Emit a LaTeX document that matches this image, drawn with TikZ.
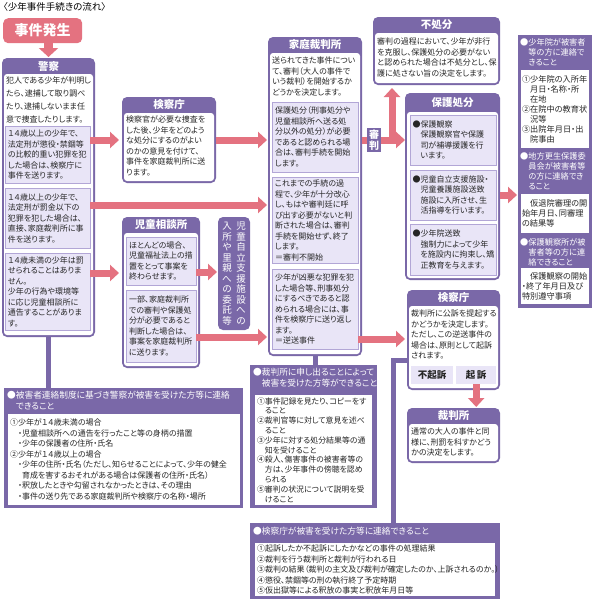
\documentclass[tikz,border=0pt]{standalone}
\usepackage{fontspec}
\setmainfont{Noto Sans CJK JP}[RawFeature=+palt]
\usetikzlibrary{arrows.meta}

\definecolor{purp}{RGB}{122,104,168}
\definecolor{lav}{RGB}{233,229,247}
\definecolor{lavline}{RGB}{178,166,214}
\definecolor{pnk}{RGB}{228,114,128}

\newcommand\titlefnt{\fontsize{9.5pt}{11pt}\selectfont}
\newcommand\txtfont{\fontsize{8pt}{10.5pt}\selectfont}
\newcommand\loosetxt{\fontsize{8pt}{12.7pt}\selectfont}
\newcommand\tighttxt{\fontsize{7.9pt}{9.8pt}\selectfont}
\newcommand\hdfont{\fontsize{10.5pt}{12pt}\selectfont\bfseries}
\newcommand\colfont{\fontsize{8.2pt}{10pt}\selectfont}
\newcommand\boxhdfont{\fontsize{8.7pt}{10.8pt}\selectfont}
\newcommand\indnt{\hspace*{1em}}

\tikzset{
  panel/.style={fill=purp, rounded corners=5pt, inner sep=0pt, outer sep=0pt, anchor=north west},
  body/.style={fill=white, rounded corners=3pt, inner sep=0pt, outer sep=0pt, anchor=north},
  head/.style={text=white, font=\hdfont, inner sep=0pt},
  txt/.style={font=\txtfont, text=black!85, align=left, inner sep=0pt, anchor=north west},
  subbox/.style={fill=lav, draw=lavline, line width=0.8pt, inner sep=3pt, outer sep=0pt,
    align=left, font=\txtfont, text=black!85, anchor=north west},
  sheet/.style={fill=white, inner sep=2pt, outer sep=0pt, align=left, font=\txtfont,
    text=black!85, anchor=north west},
  flat/.style={fill=purp, inner sep=0pt, outer sep=0pt, anchor=north west},
  whitetxt/.style={text=white, align=left, inner sep=0pt, anchor=north west},
  startbox/.style={fill=pnk, rounded corners=5pt, anchor=north west, text=white,
    font=\fontsize{14pt}{16pt}\selectfont\bfseries},
  vtext/.style={text=white, align=center, inner sep=0pt, font=\fontsize{9.5pt}{10.5pt}\selectfont},
  judge/.style={fill=purp, text=white, align=center, inner xsep=2pt, inner ysep=2pt,
    font=\fontsize{10pt}{11pt}\selectfont\bfseries},
  button/.style={fill=lav, anchor=north west, minimum height=18pt, inner sep=0pt,
    text=black!85, font=\fontsize{9.5pt}{11pt}\selectfont\bfseries},
  parrow/.style={draw=pnk, line width=7pt, -{Triangle[width=16pt,length=9pt]}},
  plink/.style={draw=pnk, line width=7pt},
  pline/.style={draw=purp, line width=5pt},
}

\begin{document}
\begin{tikzpicture}[x=1pt, y=-1pt]
\useasboundingbox (0,0) rectangle (599,600);
\fill[white] (0,0) rectangle (599,600);

% title
\node[anchor=north west, inner sep=0pt, font=\titlefnt] (title) at (3,2) {〈少年事件手続きの流れ〉};
\node[startbox, minimum width=79pt, minimum height=25pt] (start) at (3,18) {事件発生};

% police
\node[panel, minimum width=93pt, minimum height=279pt] (police) at (2,58) {};
\node[body, minimum width=89pt, minimum height=261pt] (policeB) at ([yshift=-16pt]police.north) {};
\node[head] (policeH) at ([yshift=-8pt]police.north) {警察};
\node[txt, font=\loosetxt] (policeI) at (6,77) {犯人である少年が判明し\\たら、逮捕して取り調べ\\たり、逮捕しないまま任\\意で捜査したりします。};
\node[subbox, text width=79pt, minimum height=57pt] (ps1) at (5,126) {１４歳以上の少年で、\\法定刑が懲役・禁錮等\\の比較的重い犯罪を犯\\した場合は、検察庁に\\事件を送ります。};
\node[subbox, text width=79pt, minimum height=60pt] (ps2) at (5,188) {１４歳以上の少年で、\\法定刑が罰金以下の\\犯罪を犯した場合は、\\直接、家庭裁判所に事\\件を送ります。};
\node[subbox, text width=79pt, minimum height=77pt] (ps3) at (5,253) {１４歳未満の少年は罰\\せられることはありま\\せん。\\少年の行為や環境等\\に応じ児童相談所に\\通告することがありま\\す。};

% public prosecutors office
\node[panel, minimum width=94pt, minimum height=86pt] (pros) at (122,97) {};
\node[body, minimum width=90pt, minimum height=68pt] (prosB) at ([yshift=-16pt]pros.north) {};
\node[head] (prosH) at ([yshift=-8pt]pros.north) {検察庁};
\node[txt] (prosT) at (126,116) {検察官が必要な捜査を\\した後、少年をどのよう\\な処分にするのがよい\\のかの意見を付けて、\\事件を家庭裁判所に送\\ります。};

% child guidance center
\node[panel, minimum width=78pt, minimum height=151pt] (child) at (122,217) {};
\node[body, minimum width=74pt, minimum height=133pt] (childB) at ([yshift=-16pt]child.north) {};
\node[head] (childH) at ([yshift=-8pt]child.north) {児童相談所};
\node[subbox, text width=64pt, minimum height=48pt] (cs1) at (126,237) {ほとんどの場合、\\児童福祉法上の措\\置をとって事案を\\終わらせます。};
\node[subbox, text width=64pt, minimum height=72pt] (cs2) at (126,290) {一部、家庭裁判所\\での審判や保護処\\分が必要であると\\判断した場合は、\\事案を家庭裁判所\\に送ります。};

% foster care
\node[panel, minimum width=32pt, minimum height=113pt] (foster) at (218,217) {};
\node[vtext] (fosterR) at ([xshift=7pt]foster.center) {児\\童\\自\\立\\支\\援\\施\\設\\へ\\の};
\node[vtext] (fosterL) at ([xshift=-7pt]foster.center) {入\\所\\や\\里\\親\\へ\\の\\委\\託\\等};

% family court
\node[panel, minimum width=94pt, minimum height=319pt] (court) at (268,37) {};
\node[body, minimum width=90pt, minimum height=301pt] (courtB) at ([yshift=-16pt]court.north) {};
\node[head] (courtH) at ([yshift=-8pt]court.north) {家庭裁判所};
\node[txt] (courtI) at (272,57) {送られてきた事件につい\\て、審判（大人の事件で\\いう裁判）を開始するか\\どうかを決定します。};
\node[subbox, text width=80pt, minimum height=70pt] (fs1) at (272,102) {保護処分（刑事処分や\\児童相談所へ送る処\\分以外の処分）が必要\\であると認められる場\\合は、審判手続を開始\\します。};
\node[subbox, text width=80pt, minimum height=86pt] (fs2) at (272,177) {これまでの手続の過\\程で、少年が十分改心\\し、もはや審判廷に呼\\び出す必要がないと判\\断された場合は、審判\\手続を開始せず、終了\\します。\\＝審判不開始};
\node[subbox, text width=80pt, minimum height=80pt] (fs3) at (272,269) {少年が凶悪な犯罪を犯\\した場合等、刑事処分\\にするべきであると認\\められる場合には、事\\件を検察庁に送り返し\\ます。\\＝逆送事件};

% no disposition
\node[panel, minimum width=127pt, minimum height=68pt] (nodisp) at (373,17) {};
\node[body, minimum width=123pt, minimum height=50pt] (nodispB) at ([yshift=-16pt]nodisp.north) {};
\node[head] (nodispH) at ([yshift=-8pt]nodisp.north) {不処分};
\node[txt] (nodispT) at (377,38) {審判の過程において、少年が非行\\を克服し、保護処分の必要がない\\と認められた場合は不処分とし、保\\護に処さない旨の決定をします。};

% protective measures
\node[panel, minimum width=95pt, minimum height=187pt] (prot) at (405,93) {};
\node[body, minimum width=91pt, minimum height=166pt] (protB) at ([yshift=-19pt]prot.north) {};
\node[head] (protH) at ([yshift=-9.5pt]prot.north) {保護処分};
\node[subbox, text width=81pt, inner xsep=2.5pt, minimum height=50pt] (pb1) at (410,115) {●保護観察\\\indnt 保護観察官や保護\\\indnt 司が補導援護を行\\\indnt います。};
\node[subbox, text width=81pt, inner xsep=2.5pt, minimum height=50pt] (pb2) at (410,170) {●児童自立支援施設・\\\indnt 児童養護施設送致\\\indnt 施設に入所させ、生\\\indnt 活指導を行います。};
\node[subbox, text width=81pt, inner xsep=2.5pt, minimum height=51pt] (pb3) at (410,224) {●少年院送致\\\indnt 強制力によって少年\\\indnt を施設内に拘束し、矯\\\indnt 正教育を与えます。};

% notice column
\node[flat, minimum width=74pt, minimum height=273pt] (notice) at (518,35) {};
\node[whitetxt, font=\colfont] (nh1) at (520,38) {●少年院が被害者\\\indnt 等の方に連絡で\\\indnt きること};
\node[sheet, font=\colfont, text width=66pt, inner sep=1pt, minimum height=78pt] (nw1) at (521,70) {①少年院の入所年\\\indnt 月日・名称・所\\\indnt 在地\\②在院中の教育状\\\indnt 況等\\③出院年月日・出\\\indnt 院事由};
\node[whitetxt, font=\colfont] (nh2) at (520,152) {●地方更生保護委\\\indnt 員会が被害者等\\\indnt の方に連絡でき\\\indnt ること};
\node[sheet, font=\colfont, text width=66pt, inner sep=1pt, minimum height=39pt] (nw2) at (521,194) {\indnt 仮退院審理の開\\始年月日、同審理\\の結果等};
\node[whitetxt, font=\colfont] (nh3) at (520,238) {●保護観察所が被\\\indnt 害者等の方に連\\\indnt 絡できること};
\node[sheet, font=\colfont, text width=66pt, inner sep=1pt, minimum height=36pt] (nw3) at (521,268) {\indnt 保護観察の開始\\・終了年月日及び\\特別遵守事項};

% public prosecutors office (reversed case)
\node[panel, minimum width=93pt, minimum height=100pt] (prosR) at (407,290) {};
\node[body, minimum width=89pt, minimum height=82pt] (prosRB) at ([yshift=-16pt]prosR.north) {};
\node[head] (prosRH) at ([yshift=-8pt]prosR.north) {検察庁};
\node[txt] (prosRT) at (411,310) {裁判所に公訴を提起する\\かどうかを決定します。\\ただし、この逆送事件の\\場合は、原則として起訴\\されます。};
\node[button, minimum width=42pt] (nopros) at (411,366) {不起訴};
\node[button, minimum width=40pt] (indict) at (456,366) {起\,訴};

% criminal court
\node[panel, minimum width=93pt, minimum height=55pt] (trial) at (407,408) {};
\node[body, minimum width=89pt, minimum height=37pt] (trialB) at ([yshift=-16pt]trial.north) {};
\node[head] (trialH) at ([yshift=-8pt]trial.north) {裁判所};
\node[txt] (trialT) at (411,428) {通常の大人の事件と同\\様に、刑罰を科すかどう\\かの決定をします。};

% victim notice boxes
\node[flat, minimum width=239pt, minimum height=120pt] (vPolice) at (4,388) {};
\node[whitetxt, font=\boxhdfont] (vPoliceH) at (7,391) {●被害者連絡制度に基づき警察が被害を受けた方等に連絡\\\indnt できること};
\node[sheet, text width=228pt, minimum height=91pt] (vPoliceT) at (8,414) {①少年が１４歳未満の場合\\\indnt・児童相談所への通告を行ったこと等の身柄の措置\\\indnt・少年の保護者の住所・氏名\\②少年が１４歳以上の場合\\\indnt・少年の住所・氏名（ただし、知らせることによって、少年の健全\\\hspace*{1.5em}育成を害するおそれがある場合は保護者の住所・氏名）\\\indnt・釈放したときや勾留されなかったときは、その理由\\\indnt・事件の送り先である家庭裁判所や検察庁の名称・場所};

\node[flat, minimum width=127pt, minimum height=143pt] (vCourt) at (250,365) {};
\node[whitetxt, font=\boxhdfont] (vCourtH) at (253,368) {●裁判所に申し出ることによって\\\indnt 被害を受けた方等ができること};
\node[sheet, font=\tighttxt, text width=113pt, minimum height=110pt] (vCourtT) at (255,395) {①事件記録を見たり、コピーをす\\\indnt ること\\②裁判官等に対して意見を述べ\\\indnt ること\\③少年に対する処分結果等の通\\\indnt 知を受けること\\④殺人、傷害事件の被害者等の\\\indnt 方は、少年事件の傍聴を認め\\\indnt られる\\⑤審判の状況について説明を受\\\indnt けること};

\node[flat, minimum width=250pt, minimum height=76pt] (vPros) at (250,523) {};
\node[whitetxt, font=\boxhdfont] (vProsH) at (253,527) {●検察庁が被害を受けた方等に連絡できること};
\node[sheet, text width=236pt, minimum height=53pt] (vProsT) at (255,543) {①起訴したか不起訴にしたかなどの事件の処理結果\\②裁判を行う裁判所と裁判が行われる日\\③裁判の結果（裁判の主文及び裁判が確定したのか、上訴されるのか。）\\④懲役、禁錮等の刑の執行終了予定時期\\⑤仮出獄等による釈放の事実と釈放年月日等};

% purple links
\draw[pline] (police.south) -- (police.south |- vPolice.north);
\draw[pline] (court.south) -- (court.south |- vCourt.north);
\draw[pline] ([yshift=-70pt]prosR.north west) -| ([xshift=143pt]vPros.north west);

% pink arrows
\draw[parrow, line width=9pt, -{Triangle[width=19pt,length=9pt]}, shorten >=1pt] (start.south -| police.north) -- (police.north);
\draw[parrow, shorten >=3pt] (pros.west -| ps1.east) -- (pros.west);
\coordinate (a2) at ([yshift=-17pt]ps2.north east);
\draw[parrow, shorten >=1pt] (a2) -- (a2 -| court.west);
\draw[parrow, shorten >=1pt] (pros.east) -- (pros.east -| court.west);
\coordinate (a3) at ([yshift=-20pt]ps3.north east);
\draw[parrow, shorten >=3pt] (a3) -- (a3 -| child.west);
\coordinate (a4) at ([yshift=-35pt]cs1.north east);
\draw[parrow, shorten >=1pt] (a4) -- (a4 -| foster.west);
\coordinate (a5) at ([yshift=-47pt]cs2.north east);
\draw[parrow, shorten >=1pt] (a5) -- (a5 -| court.west);
\coordinate (jn) at (392,140);
\draw[plink] (court.east |- jn) -- (jn);
\draw[parrow, shorten >=3pt] (jn) -- (jn |- nodisp.south);
\draw[parrow] (jn) -- (jn -| prot.west);
\node[judge] (judgeL) at (374,140) {審\\判};
\coordinate (a6) at ([yshift=-70pt]fs3.north east);
\draw[parrow, shorten >=2pt] (a6) -- (a6 -| prosR.west);
\coordinate (a7) at ([yshift=-102pt]prot.north east);
\draw[parrow, shorten >=1pt] (a7) -- (a7 -| notice.west);
\draw[parrow, shorten >=1pt] (indict.south) -- (indict.south |- trial.north);
\end{tikzpicture}
\end{document}
